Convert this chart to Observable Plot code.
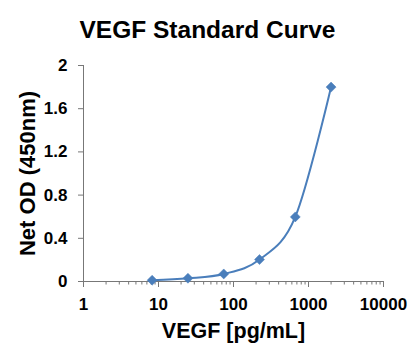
<!DOCTYPE html>
<html>
<head>
<meta charset="utf-8">
<script src="https://cdn.jsdelivr.net/npm/d3@7"></script>
<script src="https://cdn.jsdelivr.net/npm/@observablehq/plot@0.6"></script>
<style>
  html, body { margin: 0; padding: 0; background: #fff; }
  #title {
    width: 415px; height: 48px; box-sizing: border-box; padding-top: 18px;
    font-family: "Liberation Sans", Arial, sans-serif; font-weight: bold;
    font-size: 24.5px; line-height: 1; text-align: center; color: #000;
  }
</style>
</head>
<body>
<div id="title">VEGF Standard Curve</div>
<div id="chart"></div>
<script>
const concentrations = [8.23, 24.7, 74.1, 222.2, 666.7, 2000];
const netOD = [0.012, 0.03, 0.07, 0.203, 0.598, 1.80];
const xTicks = [1, 10, 100, 1000, 10000];
const yTicks = [0, 0.4, 0.8, 1.2, 1.6, 2];
const xLabel = "VEGF [pg/mL]";
const yLabel = "Net OD (450nm)";

const data = concentrations.map((c, i) => ({c, od: netOD[i]}));
const minorTicks = d3.scaleLog().domain([1, 10000]).ticks().filter(t => !xTicks.includes(t));

const blue = "#4A7EBB";
const axisColor = "#777";
const font = "Liberation Sans, Arial, sans-serif";

const plot = Plot.plot({
  width: 415,
  height: 310,
  marginLeft: 83,
  marginRight: 32,
  marginTop: 17,
  marginBottom: 77,
  style: {fontFamily: font, fontWeight: "bold", fontSize: "17px", color: "#000", background: "#fff"},
  x: {type: "log", domain: [1, 10000], label: null},
  y: {domain: [0, 2], label: null},
  marks: [
    Plot.ruleY([0], {stroke: axisColor, strokeWidth: 1}),
    Plot.ruleX([1], {stroke: axisColor, strokeWidth: 1}),
    Plot.axisY({ticks: yTicks, tickSize: 5, tickPadding: 11, tickFormat: d => String(d), stroke: axisColor, fill: "#000", label: null}),
    Plot.axisX({ticks: minorTicks, tickSize: 3.5, tickFormat: () => "", stroke: axisColor, label: null}),
    Plot.axisX({ticks: xTicks, tickSize: 6, tickPadding: 10, tickFormat: d => String(d), stroke: axisColor, fill: "#000", label: null}),
    Plot.line(data, {x: "c", y: "od", stroke: blue, strokeWidth: 2, curve: "cardinal"}),
    Plot.dot(data, {x: "c", y: "od", symbol: "diamond2", r: 4.5, fill: blue, stroke: blue, strokeWidth: 0.5}),
    Plot.text([xLabel], {frameAnchor: "bottom", dy: 50, text: d => d, fontSize: 21.5, fontWeight: "bold", fill: "#000", textAnchor: "middle", lineAnchor: "middle"}),
    Plot.text([yLabel], {frameAnchor: "left", dx: -56, rotate: -90, text: d => d, fontSize: 22, fontWeight: "bold", fill: "#000", textAnchor: "middle", lineAnchor: "middle"})
  ]
});
document.getElementById("chart").appendChild(plot);
</script>
</body>
</html>
